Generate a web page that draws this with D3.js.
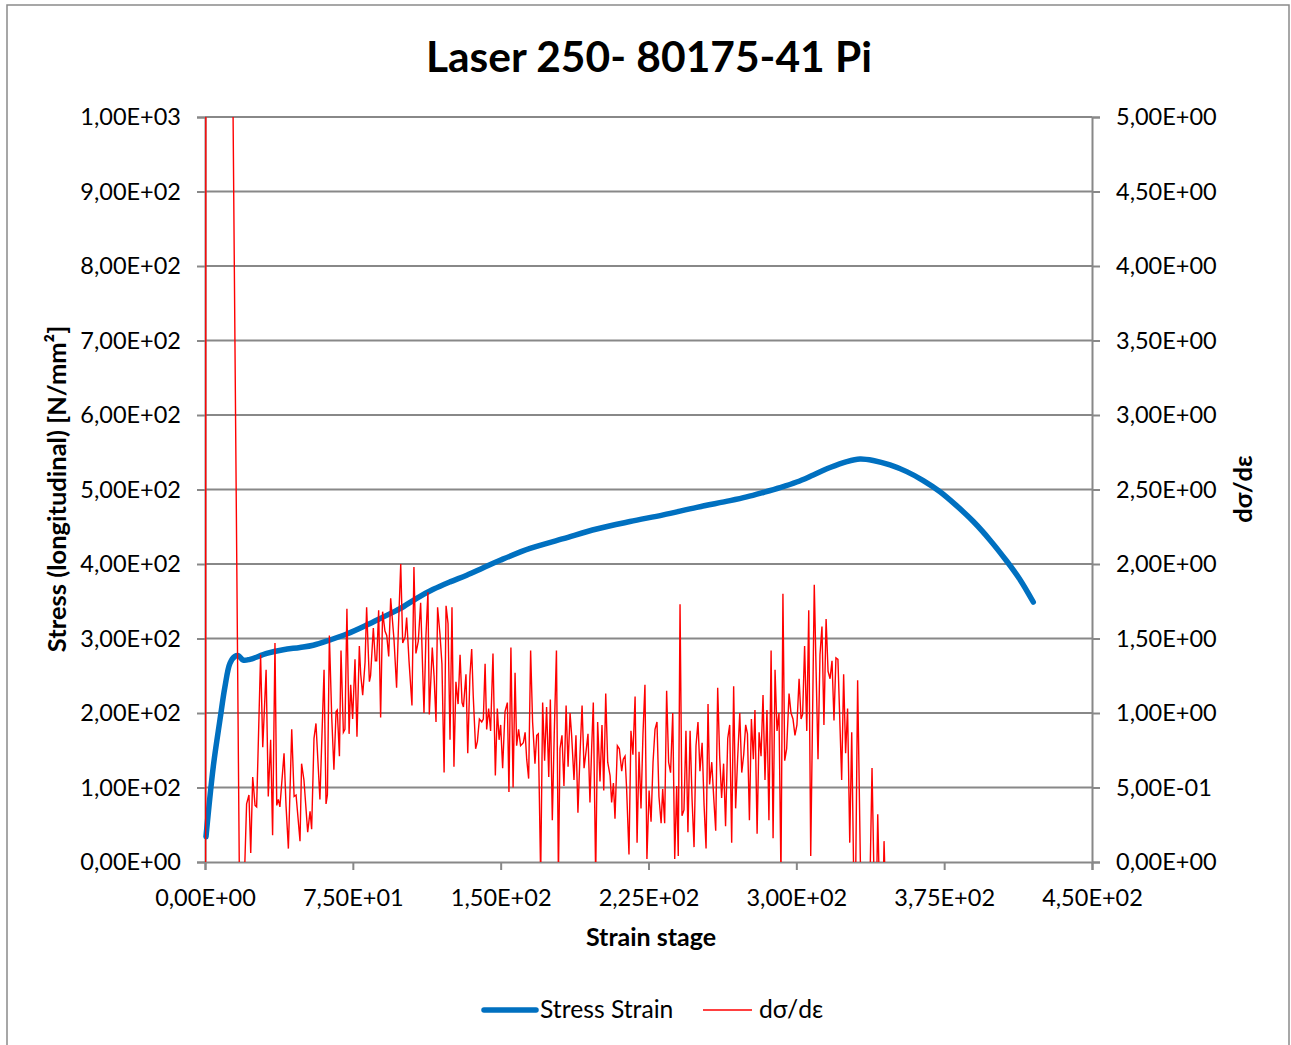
<!DOCTYPE html>
<html><head><meta charset="utf-8">
<script src="https://cdn.jsdelivr.net/npm/d3@7"></script>
<style>
html,body{margin:0;padding:0;background:#fff;}
text{font-family:Lato,"Open Sans",sans-serif;}
</style></head>
<body><svg id="c" width="1291" height="1045"></svg>
<script>
const titleText = "Laser 250- 80175-41 Pi";
const xTicks = [0, 75, 150, 225, 300, 375, 450];
const leftTicks = [0,100,200,300,400,500,600,700,800,900,1000];
const rightTicks = [0,0.5,1,1.5,2,2.5,3,3.5,4,4.5,5];

const stressStrain = [0.5,4.2,7.6,10.1,12.7,15.2,16.9,19.4,22.8,31.3,39.7,48.2,54.9,63.4,71.9,82.0,90.5,98.9,107.4,115.8,124.3,132.8,141.2,149.7,164.9,181.8,198.7,215.6,232.5,249.5,266.4,274.8,283.2,291.7,300.2,308.6,317.1,325.6,332.3,339.0,347.5,356.0,364.4,372.9,381.4,389.8,398.3,406.7,413.5,420.2];
const stressValues = [34,128,191,235,267,276,277,271,272,280,285,288,291,298,306,318,329,340,354,366,376,385,395,405,421,434,447,457,466,476,485,490,496,502.5,510,519.5,529.5,537.5,541,539,533,524,512,497,478,457,432,404,379,349];

const derivStrain = [0.3,1,2,3,4,5,6,7,8,9,10,11,12,13,18,21.1,22.3,23.2,24.2,25.4,26.2,28.2,29.3,31.0,32.1,33.3,34.3,35.5,36.4,37.2,38.0,40.1,41.1,42.3,44.0,45.2,46.2,48.2,49.0,50.2,52.1,53.3,54.1,55.3,56.3,58.3,60.4,61.4,62.1,63.1,64.3,65.4,66.5,67.1,68.2,69.0,70.2,71.0,72.0,73.1,73.9,74.9,76.1,77.1,78.3,79.0,80.0,81.2,82.0,83.4,84.0,85.4,86.4,87.1,88.1,89.1,90.1,91.3,92.2,93.2,94.2,95.9,97.2,98.1,99.3,100.3,101.5,102.3,103.5,105.0,106.0,107.0,108.2,109.4,111.1,112.1,113.1,113.8,115.3,116.2,117.2,118.0,119.2,120.2,121.3,122.3,123.3,124.3,125.3,126.3,127.3,128.4,129.4,130.4,131.1,132.4,133.3,134.4,135.3,136.1,137.3,138.2,139.2,140.4,141.2,142.1,142.9,143.9,144.9,146.1,147.3,148.3,149.2,150.0,151.0,152.2,153.4,154.2,155.2,156.3,157.3,158.1,159.1,160.1,161.5,162.4,163.2,164.2,165.2,166.2,167.4,168.3,169.1,170.3,171.3,172.3,173.3,174.4,175.2,176.2,177.2,178.3,179.3,180.1,181.1,182.1,183.2,184.2,185.2,186.0,187.2,188.2,189.2,190.3,191.3,192.3,193.3,194.3,195.3,196.2,197.0,198.2,199.2,200.4,201.4,202.3,203.3,204.3,205.5,206.3,207.2,208.0,209.2,210.2,211.4,212.2,213.1,213.9,215.1,216.1,217.1,218.2,219.2,220.2,221.2,222.2,223.2,224.2,225.3,226.3,227.3,228.3,229.3,230.3,231.4,232.2,233.2,234.2,235.2,236.2,237.3,238.3,239.3,240.1,241.0,242.0,243.0,244.0,245.0,246.1,247.1,248.1,249.1,250.1,251.1,252.2,253.2,254.2,255.2,256.0,257.1,258.1,259.1,260.1,261.1,262.1,263.1,264.1,265.2,266.2,267.2,268.2,269.2,270.2,271.3,272.3,273.3,274.3,275.2,276.2,277.2,278.2,279.0,280.1,281.1,282.1,283.1,284.1,285.1,286.1,287.2,288.2,289.2,290.2,291.2,292.2,293.2,294.1,295.1,296.3,297.3,298.3,299.3,300.3,301.4,302.4,303.2,304.2,305.3,306.3,307.3,309.1,311.0,312.0,313.0,314.0,315.1,316.1,317.1,318.1,319.1,320.1,321.1,323.0,324.0,325.0,326.0,327.1,328.1,329.1,330.1,331.1,332.6,337.4,338.4,339.4,340.8,341.3,342.0,344.2,344.5,345.0];
const derivValues = [-0.5,30,25,20,16,14,12,11,10,9,8.5,8,7.5,7,-1,0.39,0.45,0.06,0.57,0.38,0.37,1.39,0.77,1.29,0.44,0.82,0.18,1.47,0.38,0.42,0.37,0.73,0.38,0.09,0.89,0.44,0.45,0.14,0.66,0.55,0.20,0.34,0.22,0.83,0.93,0.42,1.29,0.39,0.45,1.52,0.97,0.62,1.01,1.02,0.71,1.42,0.87,0.89,1.70,0.86,1.19,0.96,1.36,0.84,1.45,1.26,1.12,1.34,1.71,1.21,1.25,1.57,1.35,1.35,1.69,0.97,1.68,1.55,1.52,1.38,1.77,1.49,1.17,1.56,2.00,1.47,1.51,1.64,1.35,1.05,1.98,1.40,1.48,1.74,1.00,1.52,1.81,0.99,1.44,1.25,0.94,1.71,1.53,1.33,0.60,1.72,1.60,0.82,1.71,0.64,1.21,1.06,1.39,1.07,1.04,1.26,0.73,1.25,1.43,1.11,0.76,0.81,0.96,0.94,0.96,1.33,0.89,1.03,0.88,1.40,0.58,1.03,0.82,0.92,0.63,1.01,1.07,0.47,1.44,0.50,1.27,0.78,0.89,0.78,0.80,0.87,0.69,0.56,1.42,0.94,0.66,0.85,0.86,-0.1,1.07,0.68,1.04,0.57,1.09,0.28,0.87,1.42,-0.1,0.76,0.85,0.51,1.05,0.64,1.00,0.85,0.55,0.85,0.33,0.74,1.05,0.63,0.74,0.86,0.40,0.78,1.07,-0.1,0.94,0.54,0.92,0.48,1.13,0.67,0.58,0.40,0.53,0.29,0.78,0.76,0.61,0.69,0.71,0.49,0.05,0.88,0.72,1.11,0.13,0.74,0.36,0.86,1.19,0.02,0.48,0.27,0.67,0.89,0.94,0.44,0.26,0.49,0.26,1.15,0.67,0.60,1.00,0.02,0.51,0.04,1.73,0.31,0.35,0.88,0.20,0.88,0.42,0.10,0.78,0.94,0.61,0.80,0.38,0.09,1.06,0.52,0.67,0.43,0.21,1.17,0.71,0.43,0.66,0.24,0.83,0.92,0.13,1.18,0.36,0.69,1.00,0.60,0.72,0.92,0.86,0.28,0.96,0.69,1.02,0.19,0.87,0.71,1.12,0.55,1.02,0.28,1.42,0.16,1.29,0.88,1.00,-0.1,1.80,0.68,0.76,1.13,1.00,0.96,0.85,0.92,1.23,0.96,0.99,1.45,0.88,1.69,0.04,1.86,0.69,1.39,1.58,0.92,1.63,1.28,1.23,1.35,0.95,1.37,1.36,0.55,1.26,0.73,1.03,0.13,0.87,-0.1,-0.1,1.22,-0.1,-0.1,0.63,-0.1,-0.1,0.32,-0.1,-0.1,0.14,-0.1];

function sci(v){
  if (v === 0) return "0,00E+00";
  const e = Math.floor(Math.log10(Math.abs(v)) + 1e-9);
  const m = v / Math.pow(10, e);
  return m.toFixed(2).replace(".", ",") + "E" + (e < 0 ? "-" : "+") + String(Math.abs(e)).padStart(2, "0");
}

const svg = d3.select("#c");
svg.append("rect").attr("width",1291).attr("height",1045).attr("fill","#fff");
svg.append("rect").attr("x",7).attr("y",5).attr("width",1282).attr("height",1060)
  .attr("fill","none").attr("stroke","#8a8a8a").attr("stroke-width",1.5);

const L = 205, R = 1092, T = 117, B = 862;
const x = d3.scaleLinear().domain([0,450]).range([L,R]);
const yL = d3.scaleLinear().domain([0,1000]).range([B,T]);
const yR = d3.scaleLinear().domain([0,5]).range([B,T]);
const grid = "#888888";

svg.append("g").selectAll("line").data(leftTicks.slice(1)).join("line")
  .attr("x1",L).attr("x2",R).attr("y1",d=>yL(d)).attr("y2",d=>yL(d))
  .attr("stroke",grid).attr("stroke-width",2);

function styleAxis(g){
  g.select(".domain").attr("stroke",grid).attr("stroke-width",2);
  g.selectAll(".tick line").attr("stroke",grid).attr("stroke-width",2);
  g.selectAll(".tick text").attr("fill","#000").style("font-size","23.5px").style("font-family","Lato");
}
svg.append("g").attr("transform",`translate(${L},0)`)
  .call(d3.axisLeft(yL).tickValues(leftTicks).tickFormat(sci).tickSizeOuter(0).tickSize(8).tickPadding(16))
  .call(styleAxis);
svg.append("g").attr("transform",`translate(${R},0)`)
  .call(d3.axisRight(yR).tickValues(rightTicks).tickFormat(sci).tickSizeOuter(0).tickSize(8).tickPadding(16))
  .call(styleAxis);
svg.append("g").attr("transform",`translate(0,${B})`)
  .call(d3.axisBottom(x).tickValues(xTicks).tickFormat(sci).tickSizeOuter(0).tickSize(8).tickPadding(19))
  .call(styleAxis);

svg.append("clipPath").attr("id","pc").append("rect").attr("x",L).attr("y",T).attr("width",R-L).attr("height",B-T);

const stress = stressStrain.map((s,i)=>[s,stressValues[i]]);
const deriv = derivStrain.map((s,i)=>[s,derivValues[i]]);

svg.append("path").datum(stress)
  .attr("d", d3.line().x(d=>x(d[0])).y(d=>yL(d[1])).curve(d3.curveCatmullRom.alpha(0.5)))
  .attr("fill","none").attr("stroke","#0070C0").attr("stroke-width",5.5)
  .attr("stroke-linecap","round").attr("stroke-linejoin","round");

svg.append("path").datum(deriv).attr("clip-path","url(#pc)")
  .attr("d", d3.line().x(d=>x(d[0])).y(d=>yR(d[1])))
  .attr("fill","none").attr("stroke","#FF0000").attr("stroke-width",1.4);

svg.append("text").attr("x",649).attr("y",72).attr("text-anchor","middle")
  .style("font-size","42.5px").style("font-weight","bold").text(titleText);

svg.append("text").attr("transform","translate(66,489) rotate(-90)").attr("text-anchor","middle")
  .style("font-size","25.5px").style("font-weight","bold").text("Stress (longitudinal) [N/mm²]");
svg.append("text").attr("transform","translate(1252,489) rotate(-90)").attr("text-anchor","middle")
  .style("font-size","25.5px").style("font-weight","bold").text("dσ/dε");
svg.append("text").attr("x",651).attr("y",946).attr("text-anchor","middle")
  .style("font-size","25px").style("font-weight","bold").text("Strain stage");

svg.append("line").attr("x1",484).attr("x2",536).attr("y1",1010).attr("y2",1010)
  .attr("stroke","#0070C0").attr("stroke-width",5.5).attr("stroke-linecap","round");
svg.append("text").attr("x",540).attr("y",1018).style("font-size","24.7px").text("Stress Strain");
svg.append("line").attr("x1",703).attr("x2",752).attr("y1",1010).attr("y2",1010)
  .attr("stroke","#FF0000").attr("stroke-width",1.4);
svg.append("text").attr("x",759).attr("y",1018).style("font-size","24.7px").text("dσ/dε");
</script></body></html>
